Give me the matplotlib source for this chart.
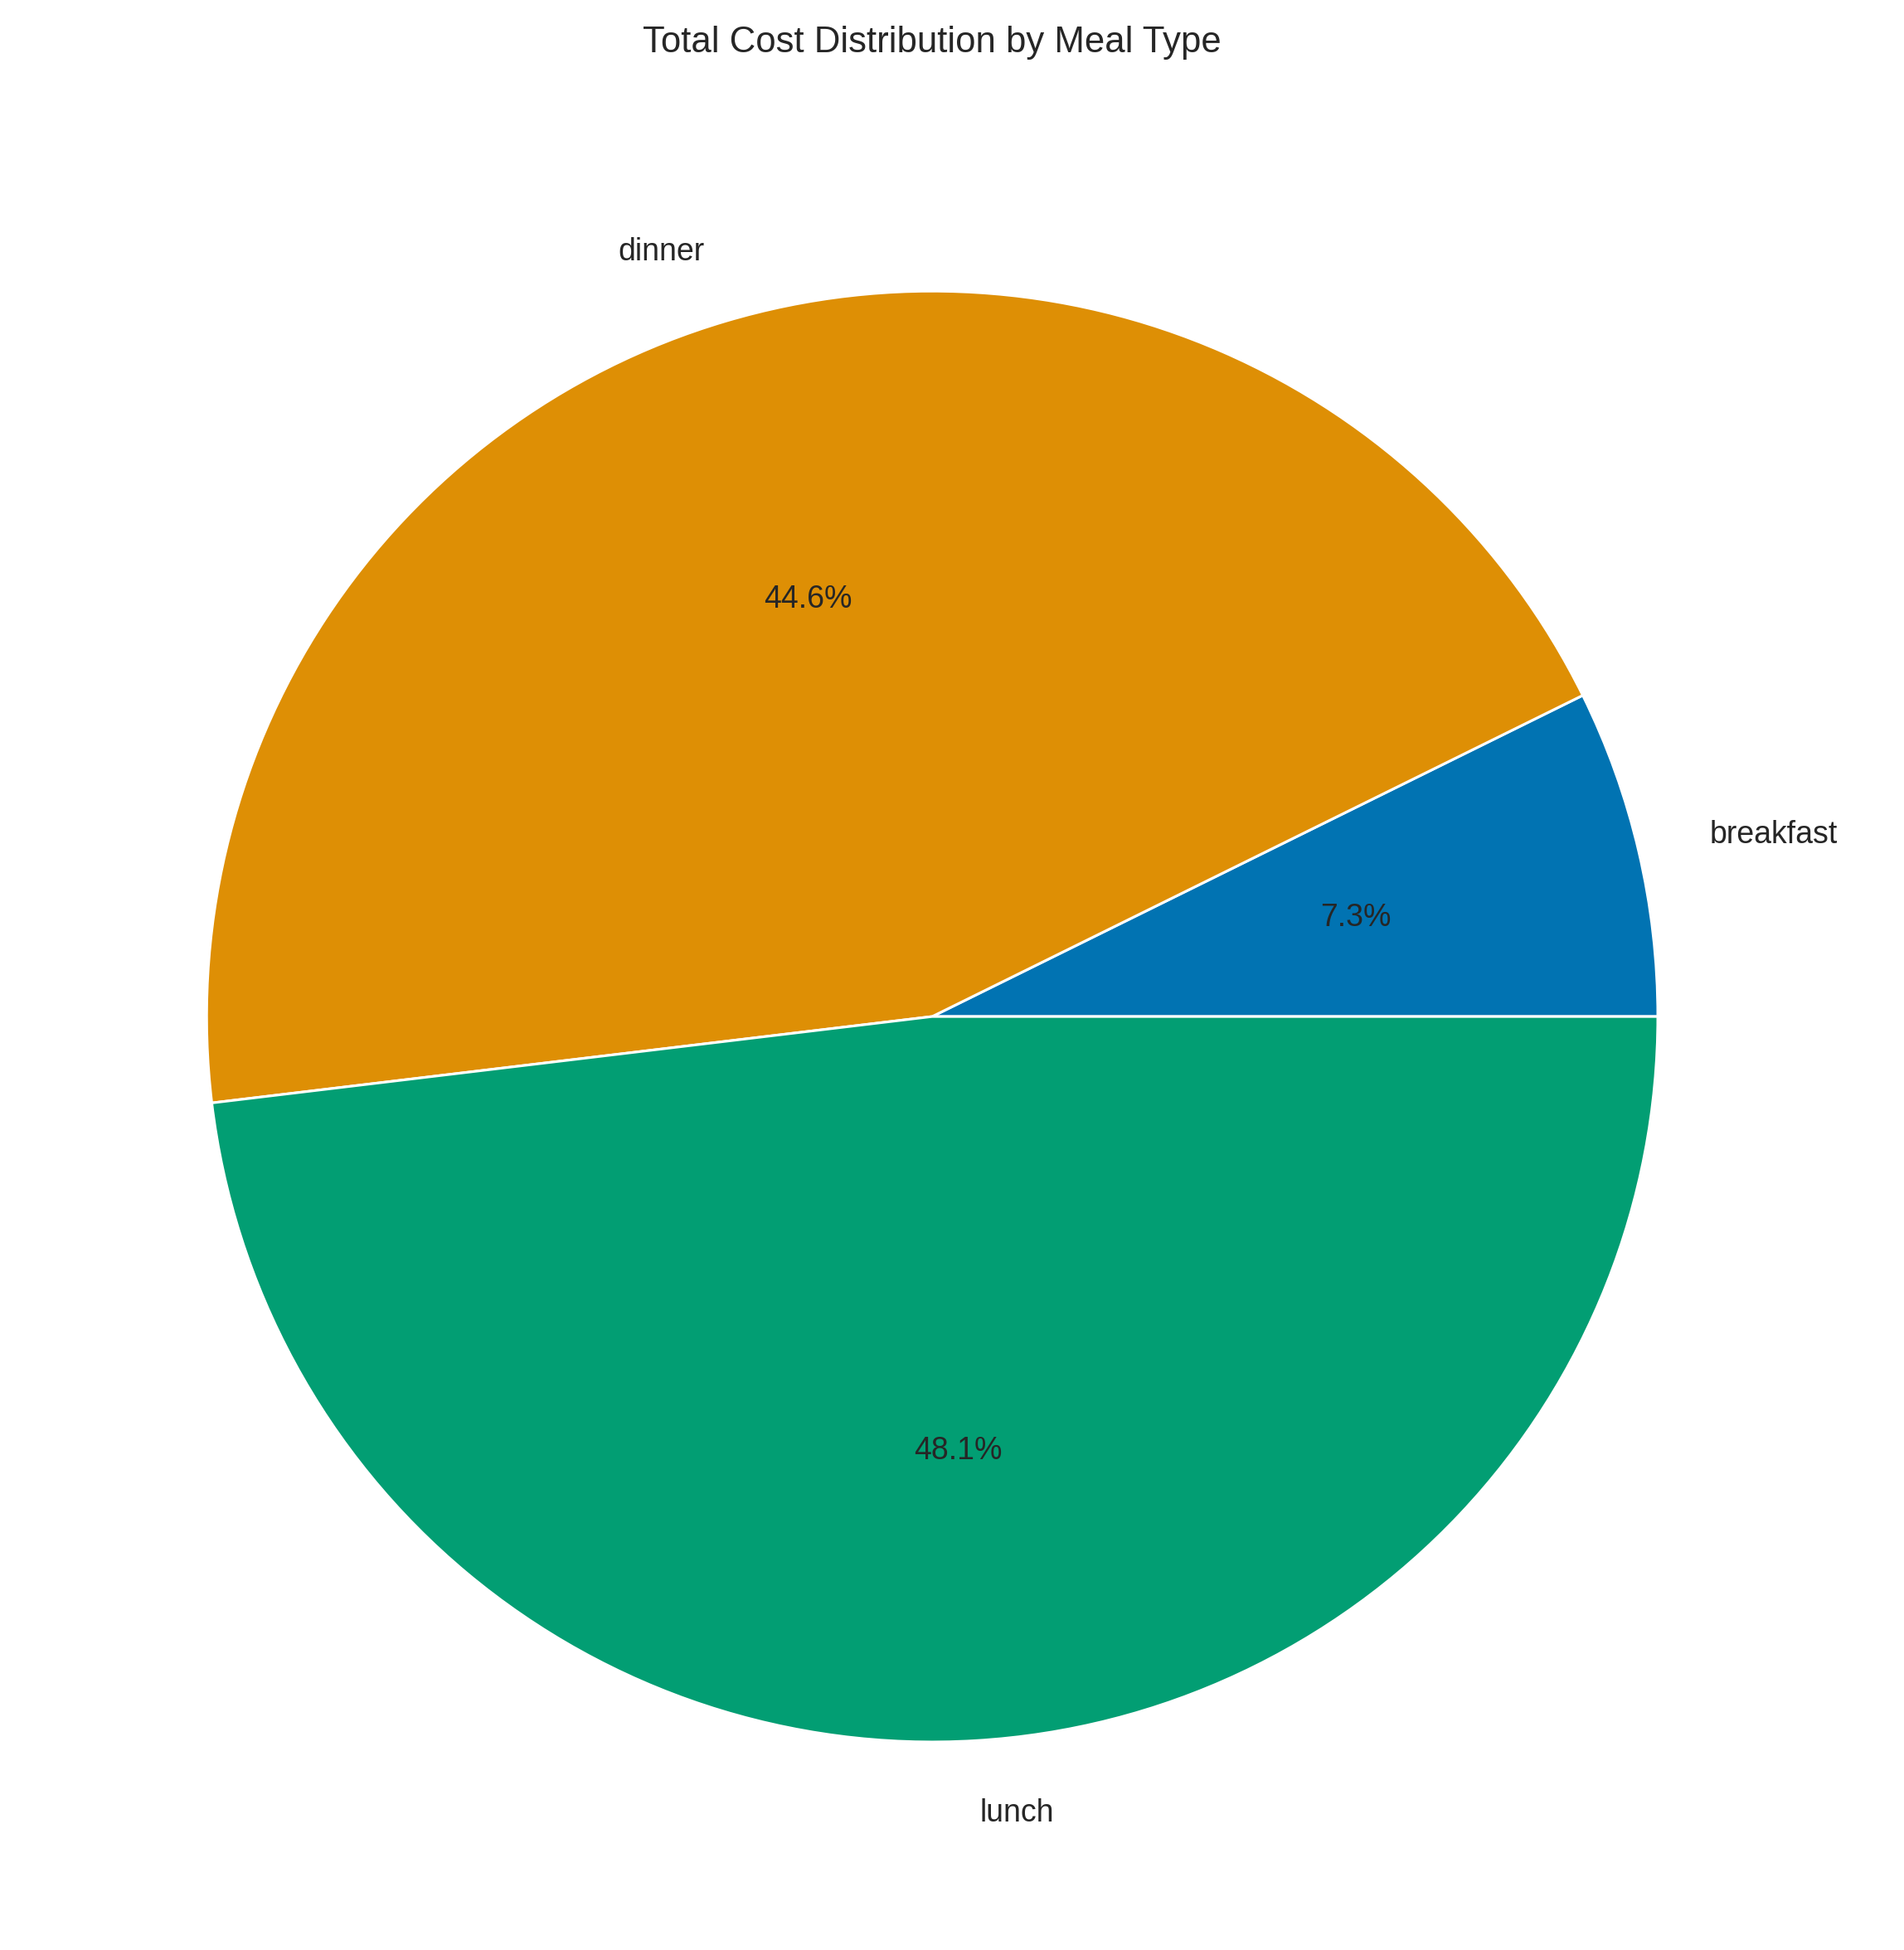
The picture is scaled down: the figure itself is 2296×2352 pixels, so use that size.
import matplotlib.pyplot as plt
import seaborn as sns

sns.set_theme(style="whitegrid")
plt.rcParams['font.family'] = ['Liberation Sans', 'DejaVu Sans']

meals = ['breakfast', 'dinner', 'lunch']
share = [7.3, 44.6, 48.1]
colors = sns.color_palette('colorblind')[:3]

fig = plt.figure(figsize=(15.31, 15.68), dpi=150)
ax = fig.add_axes([0.1085, 0.1067, 0.762, 0.744])
wedges, texts, autotexts = ax.pie(share, labels=meals, colors=colors, autopct='%1.1f%%',
                                  wedgeprops={'edgecolor': 'white', 'linewidth': 1.5},
                                  textprops={'fontsize': 18, 'color': '#262626'})
ax.set_xlim(-1, 1)
ax.set_ylim(-1, 1)
ax.set_aspect('equal')
fig.text(0.4895, 0.978, 'Total Cost Distribution by Meal Type', ha='center', va='center',
         fontsize=21, color='#262626')

fig.savefig('out.png', dpi=150)
